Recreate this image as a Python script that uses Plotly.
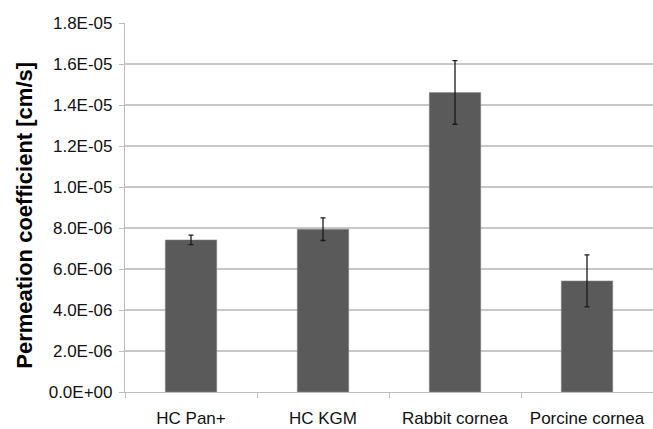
import plotly.graph_objects as go

categories = ["HC Pan+", "HC KGM", "Rabbit cornea", "Porcine cornea"]
perm_coeff = [7.42e-6, 7.94e-6, 14.61e-6, 5.42e-6]
perm_sd = [0.23e-6, 0.55e-6, 1.55e-6, 1.27e-6]

ytick_vals = [0, 2e-6, 4e-6, 6e-6, 8e-6, 1.0e-5, 1.2e-5, 1.4e-5, 1.6e-5, 1.8e-5]
ytick_text = ["0.0E+00", "2.0E-06", "4.0E-06", "6.0E-06", "8.0E-06",
              "1.0E-05", "1.2E-05", "1.4E-05", "1.6E-05", "1.8E-05"]

font_family = "Liberation Sans, Arial, sans-serif"

fig = go.Figure(
    go.Bar(
        x=categories,
        y=perm_coeff,
        marker=dict(color="#5a5a5a", line=dict(color="#8a8a8a", width=0.5)),
        error_y=dict(type="data", array=perm_sd, visible=True,
                     color="#1a1a1a", thickness=1.3, width=2.5),
    )
)

fig.update_layout(
    width=653,
    height=429,
    margin=dict(l=125, r=0, t=23, b=37),
    paper_bgcolor="white",
    plot_bgcolor="white",
    bargap=0.61,
    showlegend=False,
    font=dict(family=font_family, color="#111111"),
    xaxis=dict(
        type="category",
        showgrid=False,
        showline=True,
        linecolor="#bdbdbd",
        linewidth=1.2,
        ticks="outside",
        tickson="boundaries",
        ticklen=5,
        tickcolor="#bdbdbd",
        ticklabelstandoff=10,
        tickfont=dict(size=17, family=font_family, color="#111111"),
    ),
    yaxis=dict(
        range=[0, 1.8e-5],
        tickvals=ytick_vals,
        ticktext=ytick_text,
        showgrid=True,
        gridcolor="#c8c8c8",
        gridwidth=1.6,
        showline=True,
        linecolor="#bdbdbd",
        linewidth=1.2,
        ticks="outside",
        ticklen=5,
        tickcolor="#bdbdbd",
        ticklabelstandoff=3,
        tickfont=dict(size=17, family=font_family, color="#111111"),
        zeroline=False,
    ),
    annotations=[
        dict(
            text="<b>Permeation coefficient [cm/s]</b>",
            xref="paper", yref="paper",
            x=-0.191, y=0.478,
            xanchor="center", yanchor="middle",
            textangle=-90,
            showarrow=False,
            font=dict(size=22, family=font_family, color="#000000"),
        )
    ],
)

fig.write_html("out.html")
